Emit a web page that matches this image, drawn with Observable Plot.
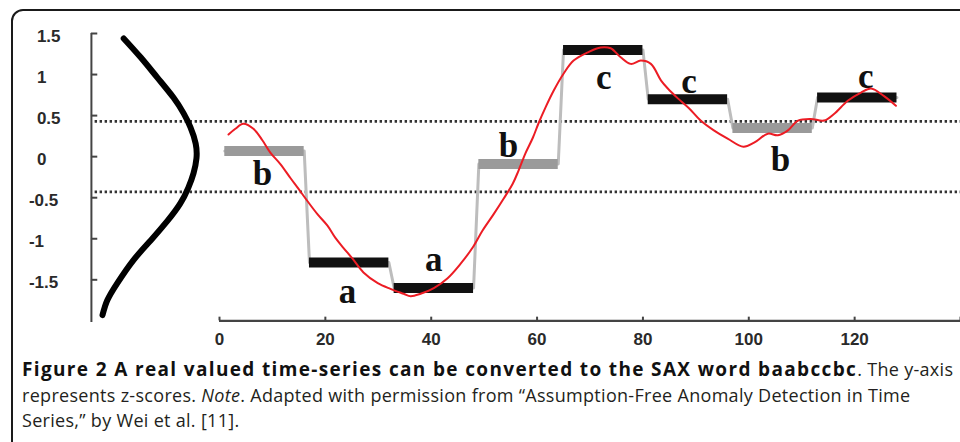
<!DOCTYPE html>
<html><head><meta charset="utf-8">
<script src="https://cdn.jsdelivr.net/npm/d3@7"></script>
<script src="https://cdn.jsdelivr.net/npm/@observablehq/plot@0.6"></script>
<style>
html,body{margin:0;padding:0;background:#fff;overflow:hidden;width:960px;height:442px;}
#frame{position:absolute;left:11px;top:9px;width:1000px;height:500px;border:2px solid #1a1a1a;border-radius:12px 0 0 0;box-sizing:border-box;}
#chart{position:absolute;left:0;top:0;}
#caption{position:absolute;left:22px;top:357px;font-family:"Open Sans",sans-serif;font-size:18px;line-height:25.5px;color:#231f20;white-space:nowrap;letter-spacing:0.3px;}
#caption b{color:#111;font-size:19px;letter-spacing:1.35px;}
</style></head><body>
<div id="frame"></div>
<div id="chart"></div>
<div id="caption"><b>Figure 2 A real valued time-series can be converted to the SAX word baabccbc</b>. The y-axis<br>represents z-scores. <i>Note</i>. Adapted with permission from “Assumption-Free Anomaly Detection in Time<br>Series,” by Wei et al. [11].</div>
<script>
// ---- data ----
const seriesX = [1.7,3.0,4.5,6.4,8.1,9.6,11.5,13.4,14.9,16.6,18.5,20.4,21.9,23.4,25.1,27.2,29.9,32.3,34.8,36.1,38.0,40.5,43.1,45.6,47.8,49.7,51.8,53.7,55.4,56.5,57.8,59.2,60.3,61.6,63.1,65.0,66.9,69.6,72.0,73.9,75.8,77.7,79.6,81.5,83.4,84.7,86.6,88.7,90.9,93.4,96.0,99.0,101.0,103.6,105.5,107.4,109.3,111.7,114.2,116.1,118.7,121.2,123.1,125.5,127.8];
const seriesZ = [0.27,0.34,0.40,0.34,0.20,0.05,-0.09,-0.26,-0.39,-0.54,-0.70,-0.84,-0.99,-1.11,-1.24,-1.41,-1.54,-1.61,-1.67,-1.70,-1.67,-1.60,-1.48,-1.30,-1.11,-0.90,-0.70,-0.51,-0.33,-0.17,0.04,0.23,0.41,0.60,0.80,1.01,1.17,1.27,1.33,1.32,1.21,1.13,1.17,1.13,0.93,0.83,0.71,0.59,0.44,0.32,0.22,0.12,0.17,0.28,0.26,0.32,0.44,0.46,0.44,0.52,0.68,0.78,0.83,0.74,0.62];
const segmentLength = 16;
const paaValues = [0.07,-1.29,-1.60,-0.09,1.30,0.70,0.35,0.72];
const saxSymbols = ["b","a","a","b","c","c","b","c"];
const labelX = [8.1,24.2,40.5,54.6,72.6,88.7,106.0,122.1];
const labelBaseZ = [-0.35,-1.78,-1.39,-0.01,0.83,0.78,-0.17,0.84];
const breakpoints = [0.43,-0.43];
const gaussZ = [1.44,1.21,0.96,0.72,0.53,0.36,0.16,-0.02,-0.20,-0.38,-0.57,-0.78,-1.02,-1.26,-1.54,-1.75,-1.93];
const gaussX = [-18.1,-14.9,-11.7,-8.7,-6.8,-5.5,-4.5,-4.35,-4.9,-5.9,-7.4,-9.8,-13.0,-16.25,-19.3,-21.2,-22.1];
const xTicks = [0,20,40,60,80,100,120,140];
const xTickLabels = ["0","20","40","60","80","100","120",""];
const yTicks = [1.5,1,0.5,0,-0.5,-1,-1.5];
const yTickLabels = ["1.5","1","0.5","0","-0.5","-1","-1.5"];

// ---- layout constants ----
const yAxisX = -24.2, xAxisY = -2.0, yBottom = -2.02, yTop = 1.5, xMax = 140;

const series = seriesX.map((x,i)=>({x, z: seriesZ[i]}));
const segs = paaValues.map((v,i)=>({
  x1: i*segmentLength + 1, x2: (i+1)*segmentLength,
  v, sym: saxSymbols[i], lx: labelX[i], lz: labelBaseZ[i]
}));
const paaPath = segs.flatMap(s=>[{x:s.x1,z:s.v},{x:s.x2,z:s.v}]);
const gauss = gaussZ.map((z,i)=>({x: gaussX[i], z}));
const yT = yTicks.map((t,i)=>({t, label: yTickLabels[i]}));
const xT = xTicks.map((t,i)=>({t, label: xTickLabels[i]}));

const tickFont = {fontFamily: "Liberation Sans, Arial, sans-serif", fontWeight: "bold", fontSize: 17, fill: "#2a2a2a", letterSpacing: "-1px"};

const chart = Plot.plot({
  width: 960, height: 356,
  marginTop: 0, marginRight: 0, marginBottom: 0, marginLeft: 0,
  x: {domain: [0, xMax], range: [219, 960], axis: null},
  y: {domain: [yBottom, yTop], range: [322, 33], axis: null},
  color: {type: "identity"},
  style: {background: "transparent", overflow: "visible"},
  marks: [
    // breakpoints (dotted)
    Plot.ruleY(breakpoints, {x1: yAxisX + 0.7, x2: xMax, stroke: "#333", strokeWidth: 2.8, strokeDasharray: "2.4,2.6"}),
    // y axis
    Plot.ruleX([yAxisX], {y1: yBottom, y2: yTop, stroke: "#444", strokeWidth: 2}),
    Plot.ruleY(yT, {y: "t", x1: yAxisX, x2: yAxisX + 1.2, stroke: "#444", strokeWidth: 2}),
    Plot.text(yT, {x: d => d.t < 0 ? yAxisX - 11.8 : yAxisX - 10.3, y: "t", text: "label", textAnchor: "start", dy: 3, ...tickFont}),
    // gaussian
    Plot.line(gauss, {x: "x", y: "z", curve: "natural", stroke: "#000", strokeWidth: 6, strokeLinecap: "round"}),
    // x axis
    Plot.ruleY([xAxisY], {x1: 0, x2: xMax, stroke: "#444", strokeWidth: 2.4}),
    Plot.ruleX(xT, {x: "t", y1: xAxisY, y2: xAxisY + 0.045, stroke: "#444", strokeWidth: 2}),
    Plot.text(xT, {x: "t", y: xAxisY, text: "label", dy: 19, ...tickFont}),
    // PAA connector
    Plot.line(paaPath, {x: "x", y: "z", stroke: "#bdbdbd", strokeWidth: 3}),
    // SAX bars
    Plot.ruleY(segs, {y: "v", x1: "x1", x2: "x2", stroke: d => d.sym === "b" ? "#9a9a9a" : "#111", strokeWidth: 10}),
    // letters
    Plot.text(segs, {x: "lx", y: "lz", text: "sym", lineAnchor: "bottom",
      fontFamily: "Liberation Serif, Times New Roman, serif", fontWeight: "bold", fontSize: 35, fill: "#111"}),
    // time series
    Plot.line(series, {x: "x", y: "z", curve: "catmull-rom", stroke: "#ec1c24", strokeWidth: 2})
  ]
});
document.getElementById("chart").appendChild(chart);
</script>
</body></html>
